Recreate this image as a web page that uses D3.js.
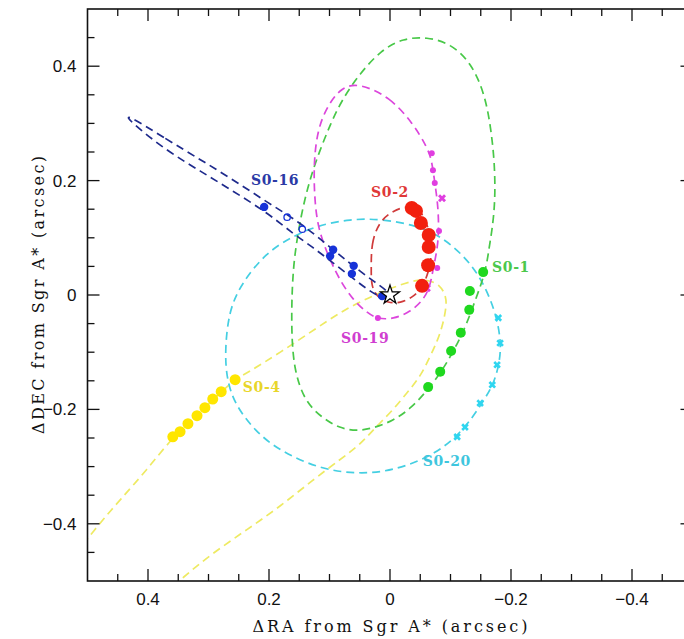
<!DOCTYPE html>
<html>
<head>
<meta charset="utf-8">
<script src="https://cdn.jsdelivr.net/npm/d3@7"></script>
<style>
  html, body { margin: 0; padding: 0; background: #fff; overflow: hidden; }
</style>
</head>
<body>
<div id="chart"></div>
<script>
// Orbits of S0 stars around Sgr A* (offsets in arcsec, RA increases to the left)
const xTicks = [0.4, 0.2, 0, -0.2, -0.4];
const yTicks = [0.4, 0.2, 0, -0.2, -0.4];

const s01Orbit = [[-0.061,0.451],[-0.100,0.440],[-0.135,0.405],[-0.157,0.350],[-0.167,0.290],[-0.173,0.230],[-0.174,0.166],
    [-0.169,0.115],[-0.164,0.084],[-0.158,0.040],[-0.143,-0.003],[-0.125,-0.056],[-0.106,-0.096],[-0.087,-0.131],
    [-0.063,-0.165],[-0.035,-0.198],[-0.005,-0.220],[0.028,-0.233],[0.055,-0.238],[0.083,-0.233],[0.112,-0.215],
    [0.141,-0.186],[0.159,-0.130],[0.163,-0.060],[0.162,0.010],[0.158,0.070],[0.147,0.140],[0.133,0.201],[0.117,0.250],
    [0.098,0.300],[0.079,0.342],[0.050,0.387],[0.015,0.428],[-0.022,0.449]];
const s01Points = [[-0.154,0.040],[-0.132,0.007],[-0.131,-0.026],[-0.117,-0.066],[-0.101,-0.098],[-0.083,-0.134],[-0.063,-0.161]];

const s019Orbit = [[0.050,0.370],[0.000,0.346],[-0.038,0.300],[-0.061,0.259],[-0.069,0.236],[-0.074,0.196],
    [-0.079,0.161],[-0.081,0.114],[-0.078,0.079],[-0.071,0.044],[-0.066,0.014],[-0.055,-0.009],[-0.033,-0.030],
    [-0.005,-0.042],[0.020,-0.042],[0.038,-0.031],[0.061,-0.009],[0.083,0.026],[0.099,0.061],[0.119,0.114],
    [0.125,0.171],[0.126,0.231],[0.120,0.288],[0.104,0.330],[0.080,0.364]];
const s019Dots = [[-0.069,0.248],[-0.071,0.218],[-0.074,0.196],[-0.081,0.112],[-0.078,0.047],[0.020,-0.040]];
const s019Crosses = [[-0.086,0.169],[-0.061,0.012]];

const s02Orbit = [[0.031,0.044],[0.031,0.091],[0.018,0.128],[-0.005,0.148],[-0.033,0.157],[-0.052,0.147],
    [-0.064,0.117],[-0.069,0.084],[-0.067,0.052],[-0.056,0.016],[-0.038,-0.004],[-0.017,-0.014],[0.003,-0.014],
    [0.022,-0.003],[0.031,0.017]];
const s02Points = [[-0.036,0.152],[-0.043,0.147],[-0.051,0.126],[-0.064,0.105],[-0.064,0.084],[-0.063,0.052],[-0.053,0.016]];

const s016Orbit = [[0.438,0.318],[0.369,0.272],[0.314,0.237],[0.260,0.202],[0.203,0.162],[0.149,0.127],
    [0.104,0.088],[0.066,0.055],[0.025,0.022],[-0.004,0.002],[0.013,-0.010],[0.061,0.029],[0.099,0.060],
    [0.127,0.083],[0.160,0.107],[0.203,0.144],[0.260,0.182],[0.314,0.217],[0.369,0.252],[0.432,0.305]];
const s016Filled = [[0.208,0.154],[0.094,0.079],[0.099,0.068],[0.060,0.051],[0.063,0.037],[0.013,-0.002]];
const s016Open = [[0.170,0.136],[0.145,0.115]];

const s020Orbit = [[0.066,0.133],[0.012,0.133],[-0.045,0.121],[-0.083,0.103],[-0.119,0.072],[-0.149,0.033],
    [-0.174,-0.026],[-0.184,-0.082],[-0.181,-0.119],[-0.171,-0.157],[-0.151,-0.191],[-0.124,-0.233],[-0.078,-0.278],
    [-0.005,-0.308],[0.055,-0.313],[0.116,-0.304],[0.182,-0.273],[0.223,-0.238],[0.256,-0.192],[0.270,-0.148],
    [0.273,-0.096],[0.266,-0.026],[0.245,0.021],[0.205,0.074],[0.160,0.103],[0.121,0.121]];
const s020Points = [[-0.179,-0.040],[-0.182,-0.084],[-0.177,-0.122],[-0.169,-0.157],[-0.149,-0.189],[-0.124,-0.231],[-0.111,-0.248]];

const s04Orbit = [[0.521,-0.454],[0.479,-0.398],[0.446,-0.358],[0.402,-0.306],[0.359,-0.248],[0.319,-0.211],
    [0.279,-0.169],[0.256,-0.148],[0.236,-0.136],[0.182,-0.101],[0.116,-0.054],[0.083,-0.031],[0.045,-0.009],
    [0.005,0.009],[-0.038,0.026],[-0.061,0.027],[-0.083,0.018],[-0.093,-0.003],[-0.093,-0.021],[-0.088,-0.049],
    [-0.079,-0.079],[-0.066,-0.108],[-0.050,-0.143],[-0.028,-0.171],[-0.005,-0.201],[0.017,-0.224],[0.038,-0.248],
    [0.055,-0.266],[0.083,-0.288],[0.127,-0.323],[0.182,-0.370],[0.236,-0.410],[0.293,-0.451],[0.347,-0.498],[0.364,-0.515]];
const s04Points = [[0.359,-0.248],[0.347,-0.239],[0.334,-0.225],[0.319,-0.211],[0.306,-0.197],[0.293,-0.182],[0.279,-0.169],[0.256,-0.148]];

const starLabels = [
    { name: 'S0-16', pos: [0.190, 0.192], color: '#2b3aa6' },
    { name: 'S0-2', pos: [0.000, 0.171], color: '#e03838' },
    { name: 'S0-1', pos: [-0.200, 0.040], color: '#4cc84c' },
    { name: 'S0-19', pos: [0.041, -0.084], color: '#d03ed0' },
    { name: 'S0-4', pos: [0.212, -0.169], color: '#e8d62a' },
    { name: 'S0-20', pos: [-0.094, -0.299], color: '#3ec6de' }
];

const width = 684, height = 639;
const margin = { top: 9, right: -8.5, bottom: 58, left: 87.5 };

const svg = d3.select('#chart').append('svg')
    .attr('width', width)
    .attr('height', height);

const x = d3.scaleLinear().domain([0.5, -0.5]).range([margin.left, width - margin.right]);
const y = d3.scaleLinear().domain([-0.5, 0.5]).range([height - margin.bottom, margin.top]);

svg.append('clipPath').attr('id', 'plot-clip')
    .append('rect')
    .attr('x', x(0.5)).attr('y', y(0.5))
    .attr('width', x(-0.5) - x(0.5)).attr('height', y(-0.5) - y(0.5));

const plot = svg.append('g').attr('clip-path', 'url(#plot-clip)');

const closedLine = d3.line().x(d => x(d[0])).y(d => y(d[1])).curve(d3.curveBasisClosed);
const openLine = d3.line().x(d => x(d[0])).y(d => y(d[1])).curve(d3.curveBasis);

function orbit(data, color, closed) {
    plot.append('path')
        .datum(data)
        .attr('d', closed ? closedLine : openLine)
        .attr('fill', 'none')
        .attr('stroke', color)
        .attr('stroke-width', 1.7)
        .attr('stroke-dasharray', '8,5');
}

function dots(data, color, r) {
    plot.selectAll(null)
        .data(data)
        .enter()
        .append('circle')
        .attr('cx', d => x(d[0]))
        .attr('cy', d => y(d[1]))
        .attr('r', r)
        .attr('fill', color);
}

function symbols(data, type, size, color) {
    plot.selectAll(null)
        .data(data)
        .enter()
        .append('path')
        .attr('transform', d => `translate(${x(d[0])},${y(d[1])}) rotate(45)`)
        .attr('d', d3.symbol().type(type).size(size))
        .attr('fill', color);
}

// orbits
orbit(s04Orbit, '#eeea62', false);
orbit(s020Orbit, '#44cfe2', true);
orbit(s01Orbit, '#48c848', true);
orbit(s019Orbit, '#dc46dc', true);
orbit(s02Orbit, '#d03a3a', true);
orbit(s016Orbit, '#1e2a8c', true);

// measured positions
dots(s04Points, '#ffe600', 5.5);
symbols(s020Points, d3.symbolCross, 36, '#2fd6f0');
dots(s01Points, '#1fd81f', 5);
dots(s019Dots, '#e03ee0', 3);
symbols(s019Crosses, d3.symbolCross, 40, '#e03ee0');
dots(s02Points, '#f2200e', 7);
dots(s016Filled, '#1632d8', 4.2);
plot.selectAll(null)
    .data(s016Open)
    .enter()
    .append('circle')
    .attr('cx', d => x(d[0]))
    .attr('cy', d => y(d[1]))
    .attr('r', 3.2)
    .attr('fill', 'none')
    .attr('stroke', '#1632d8')
    .attr('stroke-width', 1.3);

// Sgr A*
plot.append('path')
    .attr('transform', `translate(${x(0)},${y(0)})`)
    .attr('d', d3.symbol().type(d3.symbolStar).size(110))
    .attr('fill', '#fff')
    .attr('stroke', '#000')
    .attr('stroke-width', 1.3);

// star names
svg.selectAll('.star-label')
    .data(starLabels)
    .enter()
    .append('text')
    .attr('class', 'star-label')
    .attr('x', d => x(d.pos[0]))
    .attr('y', d => y(d.pos[1]))
    .attr('text-anchor', 'middle')
    .attr('font-family', 'DejaVu Serif, serif')
    .attr('font-size', 14)
    .attr('font-weight', 'bold')
    .attr('letter-spacing', 0.6)
    .attr('fill', d => d.color)
    .text(d => d.name);

// frame with inward ticks on all four sides
const x0 = x(0.5), x1 = x(-0.5), y0 = y(-0.5), y1 = y(0.5);
svg.append('rect')
    .attr('x', x0).attr('y', y1)
    .attr('width', x1 - x0).attr('height', y0 - y1)
    .attr('fill', 'none')
    .attr('stroke', '#111')
    .attr('stroke-width', 1.6);

const minor = d3.range(-0.45, 0.5, 0.05).map(v => Math.round(v * 100) / 100);
const tickLen = v => (Math.abs(Math.round(v * 100)) % 20 === 0 ? 12 : 7);
const ticks = svg.append('g').attr('stroke', '#111').attr('stroke-width', 1.3);
minor.forEach(v => {
    const l = tickLen(v);
    ticks.append('line').attr('x1', x(v)).attr('x2', x(v)).attr('y1', y0).attr('y2', y0 - l);
    ticks.append('line').attr('x1', x(v)).attr('x2', x(v)).attr('y1', y1).attr('y2', y1 + l);
    ticks.append('line').attr('y1', y(v)).attr('y2', y(v)).attr('x1', x0).attr('x2', x0 + l);
    ticks.append('line').attr('y1', y(v)).attr('y2', y(v)).attr('x1', x1).attr('x2', x1 - l);
});

const fmt = v => (v === 0 ? '0' : (v < 0 ? '\u2212' : '') + Math.abs(v).toFixed(1));

svg.selectAll('.xtick')
    .data(xTicks)
    .enter()
    .append('text')
    .attr('x', d => x(d))
    .attr('y', y0 + 24)
    .attr('text-anchor', 'middle')
    .attr('font-family', 'Liberation Sans, Arial, sans-serif')
    .attr('font-size', 17)
    .attr('fill', '#111')
    .text(fmt);

svg.selectAll('.ytick')
    .data(yTicks)
    .enter()
    .append('text')
    .attr('x', x0 - 11)
    .attr('y', d => y(d) + 6)
    .attr('text-anchor', 'end')
    .attr('font-family', 'Liberation Sans, Arial, sans-serif')
    .attr('font-size', 17)
    .attr('fill', '#111')
    .text(fmt);

// axis titles
svg.append('text')
    .attr('x', x(0))
    .attr('y', y0 + 51)
    .attr('text-anchor', 'middle')
    .attr('font-family', 'DejaVu Serif, serif')
    .attr('font-size', 16)
    .attr('textLength', 275)
    .attr('fill', '#111')
    .text('\u0394RA from Sgr A* (arcsec)');

svg.append('text')
    .attr('transform', `translate(44,${y(0)}) rotate(-90)`)
    .attr('text-anchor', 'middle')
    .attr('font-family', 'DejaVu Serif, serif')
    .attr('font-size', 16)
    .attr('textLength', 278)
    .attr('fill', '#111')
    .text('\u0394DEC from Sgr A* (arcsec)');
</script>
</body>
</html>
